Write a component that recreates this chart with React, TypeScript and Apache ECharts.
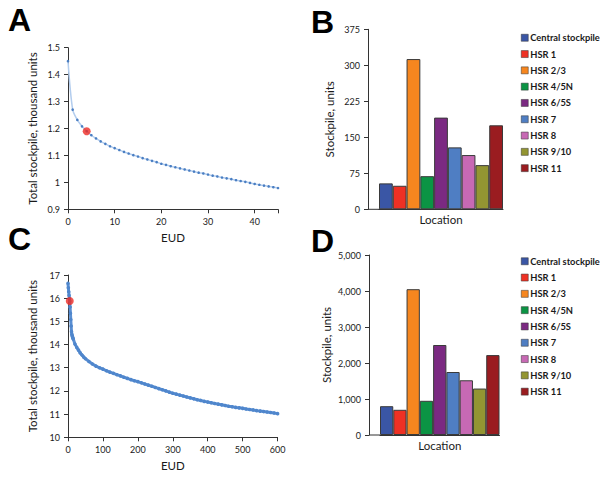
import React, { useEffect, useRef } from 'react';
import * as echarts from 'echarts';

// Panel A: total stockpile (thousand units) vs EUD
const eudA = [0, 1, 2, 3, 4, 5, 6, 7, 8, 9, 10, 11, 12, 13, 14, 15, 16, 17, 18, 19, 20, 21, 22, 23, 24, 25, 26, 27, 28, 29, 30, 31, 32, 33, 34, 35, 36, 37, 38, 39, 40, 41, 42, 43, 44, 45];
const stockA = [1.45, 1.27, 1.232, 1.208, 1.19, 1.175, 1.163, 1.152, 1.143, 1.134, 1.127, 1.12, 1.113, 1.107, 1.101, 1.096, 1.09, 1.085, 1.08, 1.075, 1.069, 1.065, 1.06, 1.056, 1.052, 1.048, 1.044, 1.04, 1.036, 1.033, 1.029, 1.025, 1.022, 1.018, 1.015, 1.012, 1.008, 1.005, 1.002, 0.998, 0.994, 0.991, 0.988, 0.985, 0.982, 0.979];
const optimumA = [4, 1.19];

// Panel C: total stockpile (thousand units) vs EUD
const eudC = [0, 1, 2, 3, 4, 5, 6, 7, 8, 9, 10, 11, 12, 13, 14, 15, 20, 25, 30, 35, 40, 45, 50, 60, 70, 80, 90, 100, 110, 120, 130, 140, 150, 160, 170, 180, 190, 200, 210, 220, 230, 240, 250, 260, 270, 280, 290, 300, 310, 320, 330, 340, 350, 360, 370, 380, 390, 400, 410, 420, 430, 440, 450, 460, 470, 480, 490, 500, 510, 520, 530, 540, 550, 560, 570, 580, 590, 600];
const stockC = [16.64, 16.45, 16.28, 16.12, 15.98, 15.88, 15.62, 15.35, 15.08, 14.8, 14.56, 14.44, 14.38, 14.33, 14.28, 14.24, 14.02, 13.88, 13.76, 13.64, 13.55, 13.46, 13.39, 13.27, 13.16, 13.07, 13.0, 12.94, 12.87, 12.81, 12.76, 12.7, 12.65, 12.59, 12.54, 12.49, 12.44, 12.4, 12.35, 12.3, 12.25, 12.2, 12.15, 12.1, 12.05, 12.0, 11.95, 11.9, 11.86, 11.82, 11.78, 11.74, 11.7, 11.66, 11.62, 11.59, 11.55, 11.52, 11.49, 11.46, 11.43, 11.4, 11.37, 11.34, 11.32, 11.29, 11.27, 11.25, 11.22, 11.2, 11.18, 11.15, 11.13, 11.11, 11.09, 11.07, 11.05, 11.02];
const optimumC = [5, 15.88];

// Panels B and D: stockpile by location
const locations = ['Central stockpile', 'HSR 1', 'HSR 2/3', 'HSR 4/5N', 'HSR 6/5S', 'HSR 7', 'HSR 8', 'HSR 9/10', 'HSR 11'];
const stockB = [54, 49, 313, 69, 191, 129, 113, 92, 175];
const stockD = [800, 700, 4050, 950, 2500, 1750, 1520, 1290, 2220];
const locationColors = ['#3a56a5', '#ee3124', '#f6861f', '#0b9444', '#7b2a82', '#4f7ec3', '#c769b4', '#939532', '#9a1c20'];

const FONT = 'Lato';
const AXIS = '#333';
const TXT = '#1a1a1a';

function valueAxisBase() {
  return {
    type: 'value' as const,
    splitLine: { show: false },
    axisLine: { show: true, onZero: false, lineStyle: { color: AXIS, width: 1 } },
    axisTick: { show: true, length: 4, lineStyle: { color: AXIS } },
    axisLabel: { color: TXT, fontSize: 9, fontFamily: FONT, margin: 8 },
    nameTextStyle: { color: TXT, fontSize: 11.5, fontFamily: FONT },
    nameLocation: 'middle' as const,
  };
}

export default function App() {
  const ref = useRef<HTMLDivElement>(null);
  useEffect(() => {
    if (!ref.current) return;
    const chart = echarts.init(ref.current, undefined, { renderer: 'svg' });
    const gridA = { left: 68, top: 47.7, width: 210, height: 161.6 };
    const gridB = { left: 379, top: 29.3, width: 124, height: 180 };
    const gridC = { left: 68, top: 275, width: 209.6, height: 162.3 };
    const gridD = { left: 380, top: 255, width: 119.5, height: 180 };

    const barSeries = (vals: number[], axisIdx: number) =>
      locations.map((name, i) => ({
        type: 'bar',
        name,
        xAxisIndex: axisIdx,
        yAxisIndex: axisIdx,
        data: [vals[i]],
        barGap: '0%',
        barCategoryGap: '0%',
        itemStyle: { color: locationColors[i], borderColor: '#3a3a3a', borderWidth: 1 },
      }));

    const legendBase = {
      orient: 'vertical' as const,
      data: locations,
      icon: 'rect',
      itemWidth: 7,
      itemHeight: 7,
      itemGap: 5.8,
      selectedMode: false,
      textStyle: { color: TXT, fontSize: 9.3, fontFamily: FONT, fontWeight: 'bold' as const, lineHeight: 10.5, padding: [0, 0, 0, -3] },
      itemStyle: { borderColor: '#333', borderWidth: 0.5 },
    };

    const option = {
      animation: false,
      backgroundColor: '#ffffff',
      grid: [
        { ...gridA, containLabel: false },
        { ...gridB, containLabel: false },
        { ...gridC, containLabel: false },
        { ...gridD, containLabel: false },
      ],
      legend: [
        { ...legendBase, left: 516, top: 27.5 },
        { ...legendBase, left: 516, top: 251 },
      ],
      xAxis: [
        {
          ...valueAxisBase(), gridIndex: 0, min: 0, max: 45, interval: 10, name: 'EUD', nameGap: 22,
          axisLabel: { ...valueAxisBase().axisLabel, formatter: (v: number) => (v === 45 ? '' : String(v)) },
        },
        {
          type: 'category', gridIndex: 1, data: [''], name: 'Location', nameLocation: 'middle', nameGap: 4,
          nameTextStyle: { color: TXT, fontSize: 11.5, fontFamily: FONT },
          axisLine: { show: true, lineStyle: { color: AXIS } }, axisTick: { show: false }, axisLabel: { show: false },
        },
        { ...valueAxisBase(), gridIndex: 2, min: 0, max: 600, interval: 100, name: 'EUD', nameGap: 22 },
        {
          type: 'category', gridIndex: 3, data: [''], name: 'Location', nameLocation: 'middle', nameGap: 4,
          nameTextStyle: { color: TXT, fontSize: 11.5, fontFamily: FONT },
          axisLine: { show: true, lineStyle: { color: AXIS } }, axisTick: { show: false }, axisLabel: { show: false },
        },
      ],
      yAxis: [
        { ...valueAxisBase(), gridIndex: 0, min: 0.9, max: 1.5, interval: 0.1, name: 'Total stockpile, thousand units', nameGap: 30 },
        { ...valueAxisBase(), gridIndex: 1, min: 0, max: 375, interval: 75, offset: 11, name: 'Stockpile, units', nameGap: 33 },
        { ...valueAxisBase(), gridIndex: 2, min: 10, max: 17, interval: 1, name: 'Total stockpile, thousand units', nameGap: 30 },
        {
          ...valueAxisBase(), gridIndex: 3, min: 0, max: 5000, interval: 1000, offset: 11, name: 'Stockpile, units', nameGap: 37,
          axisLabel: { ...valueAxisBase().axisLabel, formatter: (v: number) => v.toLocaleString('en-US') },
        },
      ],
      series: [
        {
          type: 'line', xAxisIndex: 0, yAxisIndex: 0, smooth: 0.3,
          data: eudA.map((x, i) => [x, stockA[i]]),
          lineStyle: { color: '#b3cdee', width: 1.5 },
          symbol: 'circle', symbolSize: 2.6, itemStyle: { color: '#4a7ec2' },
        },
        {
          type: 'scatter', xAxisIndex: 0, yAxisIndex: 0, data: [optimumA],
          symbolSize: 8, itemStyle: { color: '#ee2b24' }, z: 5,
        },
        {
          type: 'line', xAxisIndex: 2, yAxisIndex: 2,
          data: eudC.map((x, i) => [x, stockC[i]]),
          lineStyle: { color: '#5a8fd3', width: 3 },
          symbol: 'circle', symbolSize: 3.6, itemStyle: { color: '#4f86cc' },
        },
        {
          type: 'scatter', xAxisIndex: 2, yAxisIndex: 2, data: [optimumC],
          symbolSize: 8, itemStyle: { color: '#ee2b24' }, z: 5,
        },
        ...barSeries(stockB, 1),
        ...barSeries(stockD, 3),
      ],
      graphic: [
        { type: 'text', left: 8, top: 4, style: { text: 'A', fontSize: 32, fontWeight: 'bold', fontFamily: 'Liberation Sans', fill: '#000' } },
        { type: 'text', left: 311, top: 6, style: { text: 'B', fontSize: 32, fontWeight: 'bold', fontFamily: 'Liberation Sans', fill: '#000' } },
        { type: 'text', left: 8, top: 223, style: { text: 'C', fontSize: 32, fontWeight: 'bold', fontFamily: 'Liberation Sans', fill: '#000' } },
        { type: 'text', left: 311, top: 225, style: { text: 'D', fontSize: 32, fontWeight: 'bold', fontFamily: 'Liberation Sans', fill: '#000' } },
        { type: 'line', shape: { x1: 368, y1: gridB.top + gridB.height, x2: gridB.left, y2: gridB.top + gridB.height }, style: { stroke: AXIS, lineWidth: 1 } },
        { type: 'line', shape: { x1: 369, y1: gridD.top + gridD.height, x2: gridD.left, y2: gridD.top + gridD.height }, style: { stroke: AXIS, lineWidth: 1 } },
      ],
    };
    chart.setOption(option as any);
    return () => chart.dispose();
  }, []);
  return <div ref={ref} style={{ position: 'absolute', left: 0, top: 0, width: 600, height: 477 }} />;
}
